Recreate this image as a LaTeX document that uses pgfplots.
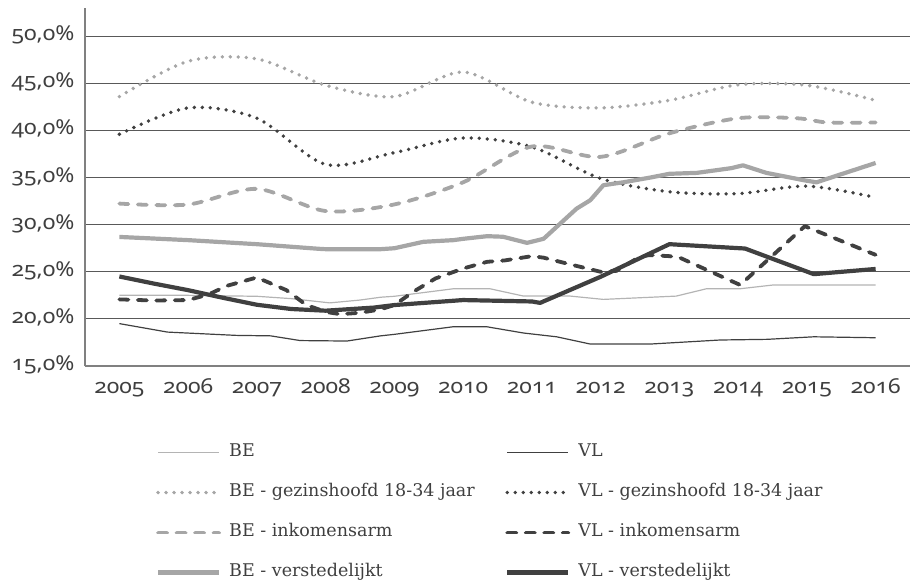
\documentclass[border=0pt]{standalone}
\usepackage{fontspec}
\setmainfont{DejaVu Serif}
\newfontfamily\tickfont[Numbers=OldStyle, FakeStretch=1.12]{Noto Sans}
\usepackage{pgfplots}
\pgfplotsset{compat=1.18}
\definecolor{lg}{HTML}{A6A6A6}
\definecolor{lt}{HTML}{B4B4B4}
\definecolor{dk}{HTML}{404040}
\definecolor{gridc}{HTML}{595959}
\definecolor{axc}{HTML}{808080}
\definecolor{txt}{HTML}{3F3F3F}
\newcommand{\legtxt}[1]{\makebox[268bp][l]{#1}}
\begin{document}
\begin{tikzpicture}
\begin{axis}[
  name=ax,
  scale only axis,
  width=825bp, height=358bp,
  xmin=-0.5, xmax=11.5, ymin=15, ymax=53,
  axis x line=bottom, axis y line=left,
  axis line style={-, axc, line width=1.3bp},
  xtick={0,1,2,3,4,5,6,7,8,9,10,11},
  xticklabels={2005,2006,2007,2008,2009,2010,2011,2012,2013,2014,2015,2016},
  ytick={15,20,25,30,35,40,45,50},
  yticklabels={{15,0\%},{20,0\%},{25,0\%},{30,0\%},{35,0\%},{40,0\%},{45,0\%},{50,0\%}},
  ymajorgrids, grid style={gridc, line width=1bp},
  major tick length=0pt,
  tick label style={font=\tickfont\fontsize{20.5bp}{22bp}\selectfont, text=txt,
    text height=14bp, text depth=5bp},
  yticklabel style={xshift=-7bp},
  xticklabel style={yshift=-10bp},
  legend columns=2,
  legend cell align=left,
  legend style={draw=none, fill=none, at={(0,0)}, anchor=north west,
    xshift=71bp, yshift=-79bp, inner sep=0pt, outer sep=0pt,
    column sep=8bp, row sep=25bp,
    nodes={inner sep=0pt, text height=11bp, text depth=4bp,
      font=\fontsize{17.5bp}{19bp}\selectfont, text=txt}},
  legend image code/.code={\draw[#1] (0bp,0bp) -- (61bp,0bp);},
  every axis plot/.append style={line join=round},
]
% BE
\addplot[lt, line width=1.2bp] coordinates {
(0,22.5) (1,22.5) (2,22.4) (2.5,22.15) (3.06,21.7) (3.5,22.0) (3.8,22.3) (4,22.4)
(4.86,23.2) (5.39,23.2) (5.88,22.42) (6.56,22.42) (7.04,22.07) (8.1,22.42)
(8.54,23.2) (9.03,23.2) (9.51,23.6) (11,23.6)};
\addlegendentry{\legtxt{BE}}
% VL
\addplot[dk, line width=1.2bp] coordinates {
(0,19.5) (0.7,18.6) (1.7,18.25) (2.2,18.2) (2.63,17.7) (3.31,17.65) (3.8,18.2)
(4,18.36) (4.86,19.17) (5.34,19.17) (5.88,18.5) (6.36,18.1) (6.85,17.33)
(7.72,17.33) (8.74,17.76) (9.42,17.83) (10.1,18.1) (11,18.0)};
\addlegendentry{\legtxt{VL}}
% BE gezinshoofd
\addplot[lg, line width=3.8bp, line cap=round, dash pattern=on 0bp off 8bp, smooth] coordinates {
(0,43.6) (1,47.35) (2,47.6) (3,44.8) (4,43.6) (5,46.2) (6,43.0) (7,42.4)
(8,43.2) (9,44.85) (10,44.8) (11,43.2)};
\addlegendentry{\legtxt{BE - gezinshoofd 18-34 jaar}}
% VL gezinshoofd
\addplot[dk, line width=3.8bp, line cap=round, dash pattern=on 0bp off 8bp, smooth] coordinates {
(0,39.6) (1,42.4) (2,41.3) (3,36.4) (4,37.65) (5,39.2) (6,38.25) (7,34.9)
(8,33.5) (9,33.3) (10,34.1) (11,32.9)};
\addlegendentry{\legtxt{VL - gezinshoofd 18-34 jaar}}
% BE inkomensarm
\addplot[lg, line width=3.8bp, line cap=round, dash pattern=on 9bp off 9.5bp, smooth] coordinates {
(0,32.24) (1,32.14) (2,33.8) (3,31.45) (4,32.15) (5,34.5) (6,38.3) (7,37.2)
(8,39.7) (9,41.3) (9.85,41.3) (10.3,40.85) (11,40.85)};
\addlegendentry{\legtxt{BE - inkomensarm}}
% VL inkomensarm
\addplot[dk, line width=3.8bp, line cap=round, dash pattern=on 9bp off 9.5bp] coordinates {
(0,22.07) (0.5,21.95) (1,22.0) (1.3,22.6) (1.56,23.5) (2,24.4) (2.43,23.05)
(2.72,21.47) (3,20.75) (3.21,20.5) (3.5,20.65) (3.79,21.0) (4,21.47) (4.28,22.9)
(4.6,24.3) (5,25.35) (5.35,26.06) (5.6,26.2) (6,26.66) (6.17,26.5) (6.55,25.8)
(7,25.0) (7.23,25.1) (7.57,26.6) (7.71,26.77) (8,26.66) (8.15,26.5) (9.03,23.6)
(9.97,29.84) (11,26.8)};
\addlegendentry{\legtxt{VL - inkomensarm}}
% BE verstedelijkt
\addplot[lg, line width=4.2bp] coordinates {
(0,28.7) (1,28.36) (2,27.93) (2.9,27.44) (3,27.4) (3.8,27.4) (4,27.5) (4.42,28.18)
(4.86,28.36) (5,28.5) (5.35,28.78) (5.58,28.72) (5.93,28.07) (6.17,28.5)
(6.41,30.1) (6.65,31.7) (6.85,32.6) (7.04,34.19) (7.33,34.5) (7.72,35.0)
(8.0,35.4) (8.4,35.5) (8.9,36.0) (9.07,36.3) (9.41,35.5) (9.97,34.7)
(10.14,34.5) (11,36.55)};
\addlegendentry{\legtxt{BE - verstedelijkt}}
% VL verstedelijkt
\addplot[dk, line width=4.2bp] coordinates {
(0,24.5) (0.5,23.75) (1,23.05) (1.5,22.25) (2,21.5) (2.5,21.05) (3,20.87)
(3.7,21.2) (4,21.47) (5,22.0) (6,21.85) (6.12,21.7) (7,24.47) (8,27.93)
(9.1,27.47) (10.1,24.75) (11,25.3)};
\addlegendentry{\legtxt{VL - verstedelijkt}}
\end{axis}
\path (ax.south west) ++(-85bp,-216bp) rectangle ++(913bp,582bp);
\end{tikzpicture}
\end{document}
